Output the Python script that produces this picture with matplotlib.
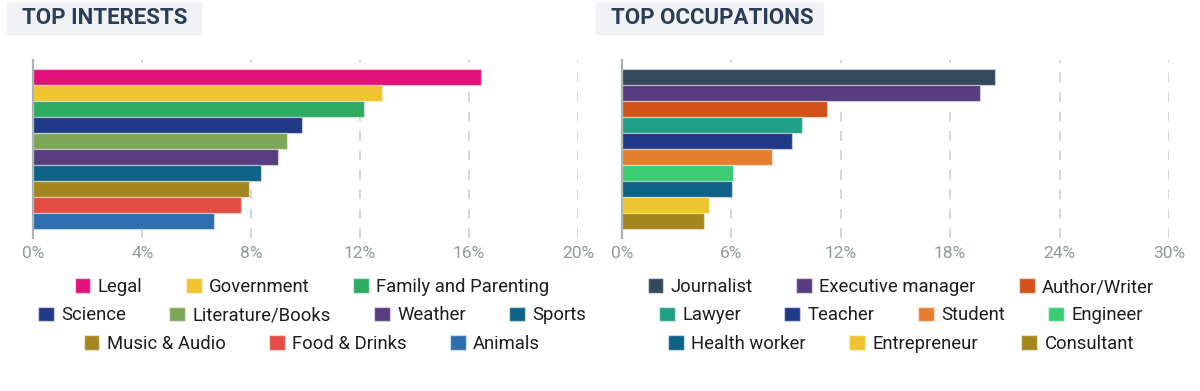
import matplotlib
matplotlib.use("Agg")
import matplotlib.pyplot as plt
from matplotlib.patches import Rectangle, Patch

plt.rcParams["font.family"] = ["Roboto", "DejaVu Sans"]

# ----- data ------------------------------------------------------------- #
interests = ["Legal", "Government", "Family and Parenting", "Science",
             "Literature/Books", "Weather", "Sports", "Music & Audio",
             "Food & Drinks", "Animals"]
interest_pct = [16.45, 12.8, 12.15, 9.87, 9.33, 8.97, 8.37, 7.93, 7.62, 6.63]
interest_colors = ["#e3127b", "#f0c330", "#2eab61", "#203a87", "#7ea657",
                   "#583d80", "#0e6187", "#a58720", "#e34d43", "#2e6db0"]
interest_rows = [[0, 1, 2], [3, 4, 5, 6], [7, 8, 9]]
interest_ticks = [0, 4, 8, 12, 16, 20]

occupations = ["Journalist", "Executive manager", "Author/Writer", "Lawyer",
               "Teacher", "Student", "Engineer", "Health worker",
               "Entrepreneur", "Consultant"]
occupation_pct = [20.46, 19.62, 11.23, 9.86, 9.34, 8.25, 6.09, 6.02, 4.79, 4.49]
occupation_colors = ["#34495e", "#573d80", "#d35219", "#22a085", "#203a87",
                     "#e67e30", "#3bcc72", "#0e6187", "#f0c330", "#a58720"]
occupation_rows = [[0, 1, 2], [3, 4, 5, 6], [7, 8, 9]]
occupation_ticks = [0, 6, 12, 18, 24, 30]

W, H = 1200, 391
fig = plt.figure(figsize=(12, 3.91), dpi=100)


def px(x0, y0, x1, y1):
    # pixel box (top-left origin) -> figure fraction rect
    return [x0 / W, 1 - y1 / H, (x1 - x0) / W, (y1 - y0) / H]


def title_box(x0, x1, text):
    fig.patches.append(Rectangle((x0 / W, 1 - 34 / H), (x1 - x0) / W, 32 / H,
                                 transform=fig.transFigure, color="#f0f2f5",
                                 zorder=0))
    fig.text((x0 + 15) / W, 1 - 18.5 / H, text, fontsize=16,
             fontweight="bold", color="#2c3e55", va="center", ha="left")


def bar_panel(rect, names, vals, colors, ticks, rows, legend_cx):
    ax = fig.add_axes(rect)
    n = len(vals)
    ypos = list(range(n))[::-1]
    ax.barh(ypos, vals, height=1.0, color=colors,
            edgecolor=(1, 1, 1, 0.45), linewidth=0.9, zorder=3)
    ax.set_xlim(ticks[0], ticks[-1])
    ax.set_ylim(-0.53 - 0.5, n - 0.5 + 0.53)
    ax.set_xticks(ticks)
    ax.set_xticklabels([f"{t}%" for t in ticks])
    ax.set_yticks([])
    ax.tick_params(axis="x", length=0, pad=6, labelsize=12.5,
                   labelcolor="#8d9b9b")
    ax.grid(axis="x", color="#d4d6d8", linestyle=(0, (5, 5)), linewidth=1.4,
            zorder=0)
    for s in ["top", "right", "bottom"]:
        ax.spines[s].set_visible(False)
    ax.spines["left"].set_color("#aab4b4")
    ax.spines["left"].set_linewidth(1.6)
    ax.spines["left"].set_zorder(4)

    row_y = [287, 315.5, 344]
    for r, idx in enumerate(rows):
        handles = [Patch(facecolor=colors[i], edgecolor=(1, 1, 1, 0.5),
                         label=names[i]) for i in idx]
        leg = fig.legend(handles=handles, ncol=len(idx), loc="center",
                         bbox_to_anchor=(legend_cx / W, 1 - row_y[r] / H),
                         frameon=False, fontsize=13.3, handlelength=0.85,
                         handleheight=0.85, handletextpad=0.4,
                         columnspacing=2.35, borderpad=0, borderaxespad=0)
        for t in leg.get_texts():
            t.set_color("#1e1e1e")
    return ax


title_box(7, 201, "TOP INTERESTS")
title_box(596, 823, "TOP OCCUPATIONS")

bar_panel(px(33.3, 60, 578, 237.7), interests, interest_pct, interest_colors,
          interest_ticks, interest_rows, 312)
bar_panel(px(621.8, 60, 1169, 237.7), occupations, occupation_pct,
          occupation_colors, occupation_ticks, occupation_rows, 901)

fig.savefig("out.png", dpi=100, facecolor="white")
